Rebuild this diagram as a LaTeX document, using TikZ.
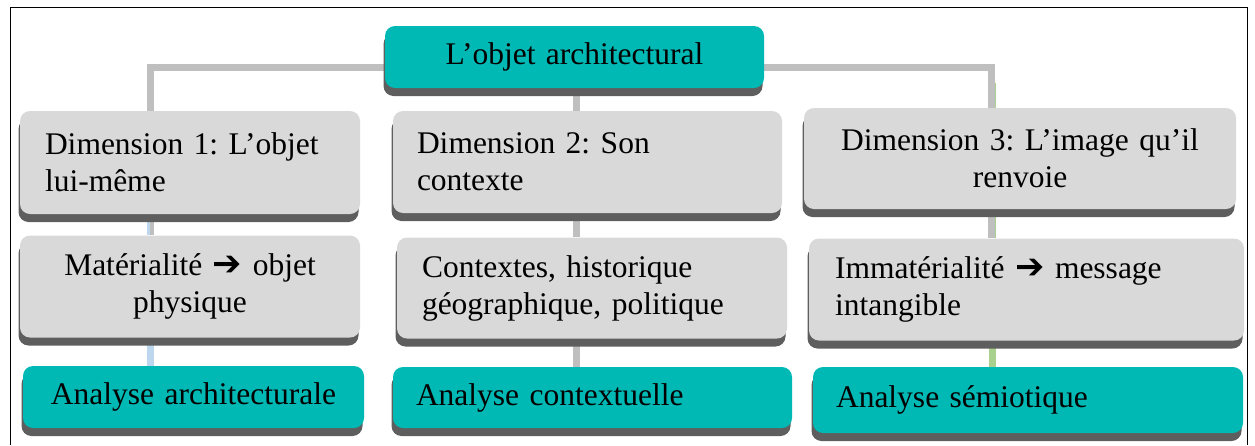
\documentclass[tikz,border=0pt]{standalone}
\usepackage{fontspec}
\setmainfont{Liberation Serif}
\newfontfamily\dejavu{DejaVu Sans}
\usetikzlibrary{shadows,backgrounds}
\definecolor{tealbox}{HTML}{00B9B5}
\definecolor{boxgray}{HTML}{D9D9D9}
\definecolor{shadowgray}{HTML}{5E5E5E}
\definecolor{conngray}{HTML}{BFBFBF}
\definecolor{connblue}{HTML}{BDD7EE}
\definecolor{conngreen}{HTML}{A9D18E}
\newcommand{\myarr}{{\dejavu\fontsize{35}{35}\selectfont ➔}}
\frenchspacing
\begin{document}
\begin{tikzpicture}[x=1pt,y=-1pt,
  box/.style={rounded corners=10pt, draw=none, inner ysep=0pt,
    font=\fontsize{31.5}{37}\selectfont\frenchspacing,
    drop shadow={shadow xshift=-1.5pt, shadow yshift=-8pt, fill=shadowgray, opacity=1}},
  tbox/.style={box, fill=tealbox},
  gbox/.style={box, fill=boxgray},
  conn/.style={line width=7pt, draw=conngray},
  frame/.style={line width=1pt, draw=black}]
\useasboundingbox (0,0) rectangle (1255,445);
\draw[frame] (10,445) -- (10,7) -- (1247,7) -- (1247,445);

% top
\node[tbox, minimum height=62pt, text width=359pt, inner xsep=10pt, align=center] (T) at (574.5,57) {L’objet architectural};

% row 1
\node[gbox, minimum height=103pt, text width=290pt, inner xsep=25pt, align=left] (D1) at (190,162.5) {Dimension 1: L’objet\\lui-même};
\node[gbox, minimum height=102pt, text width=341pt, inner xsep=24pt, align=left] (D2) at (587.5,162) {Dimension 2: Son\\contexte};
\node[gbox, minimum height=101pt, text width=408pt, inner xsep=12pt, align=center] (D3) at (1020,158.5) {Dimension 3: L’image qu’il\\renvoie};

% row 2
\node[gbox, minimum height=102pt, text width=316pt, inner xsep=12pt, align=center] (M1) at (190,286.5) {Matérialité \myarr{} objet\\physique};
\node[gbox, minimum height=101pt, text width=340pt, inner xsep=25pt, align=left] (M2) at (592,288) {Contextes, historique\\géographique, politique};
\node[gbox, minimum height=102pt, text width=383pt, inner xsep=26pt, align=left] (M3) at (1026.5,289.5) {Immatérialité \myarr{} message\\intangible};

% row 3
\node[tbox, minimum height=62pt, text width=321pt, inner xsep=10pt, align=center] (A1) at (193.5,397) {Analyse architecturale};
\node[tbox, minimum height=61pt, text width=353pt, inner xsep=23pt, align=left] (A2) at (592.5,397.5) {Analyse contextuelle};
\node[tbox, minimum height=66pt, text width=384pt, inner xsep=23pt, align=left] (A3) at (1028,400) {Analyse sémiotique};

\coordinate (c1) at (150,67);
\coordinate (c2) at (576,67);
\coordinate (c3) at (992,67);

\begin{scope}[on background layer]
  % column 3 green edge
  \draw[line width=8pt, draw=conngreen] (c3 |- 0,83) -- (c3 |- D3.north);
  \draw[line width=8pt, draw=conngreen] (c3 |- D3.south) -- (c3 |- M3.north);
  \draw[conn] (c1 |- D1.north) -- (c1) -- ([xshift=-1pt]c3) -- ([xshift=-1pt]c3 |- D3.north);
  \draw[conn] (T.south -| c2) -- (D2.north -| c2);
  % row1 -> row2
  \draw[line width=7pt, draw=connblue] (D1.south -| c1) -- (M1.north -| c1);
  \draw[line width=4pt, draw=conngray] ([xshift=1.5pt]D1.south -| c1) -- ([xshift=1.5pt]M1.north -| c1);
  \draw[conn] (D2.south -| c2) -- (M2.north -| c2);
  \draw[conn] ([xshift=-1pt]D3.south -| c3) -- ([xshift=-1pt]M3.north -| c3);
  % row2 -> row3
  \draw[line width=7pt, draw=connblue] (M1.south -| c1) -- (A1.north -| c1);
  \draw[conn] (M2.south -| c2) -- (A2.north -| c2);
  \draw[line width=7pt, draw=conngreen] (M3.south -| c3) -- (A3.north -| c3);
\end{scope}
\end{tikzpicture}
\end{document}
